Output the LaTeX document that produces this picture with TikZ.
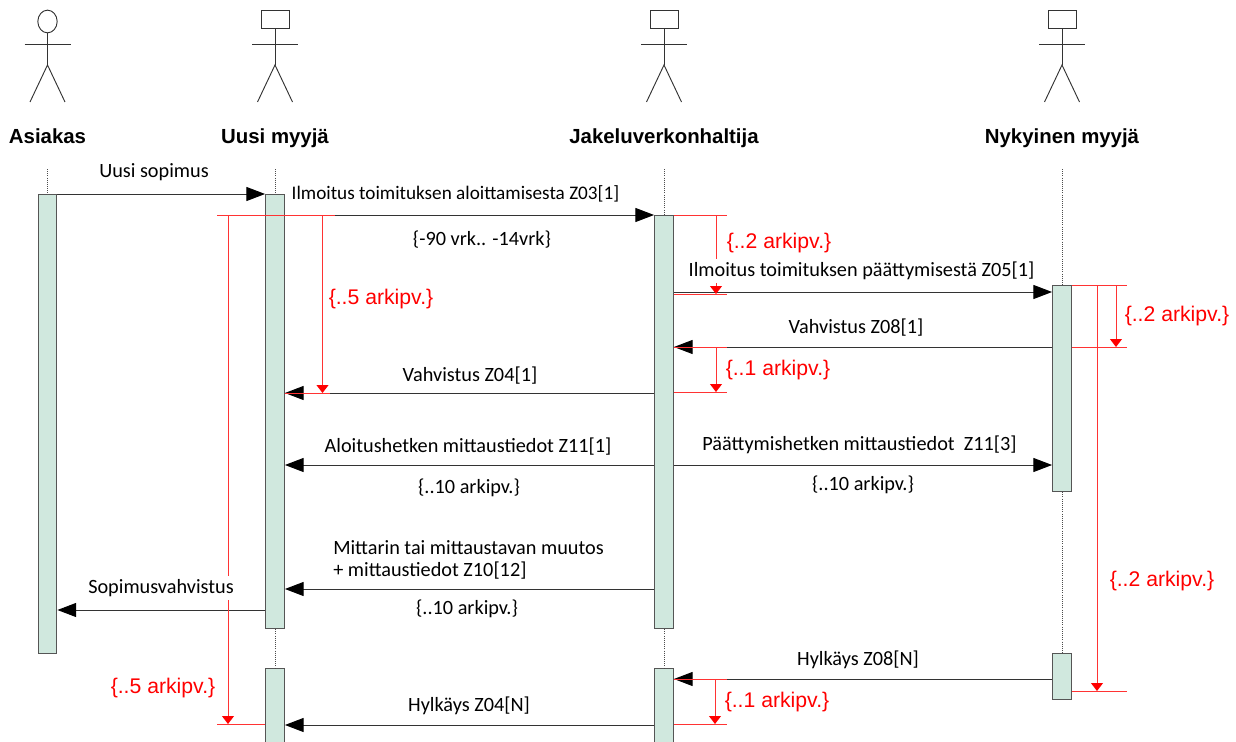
\documentclass[tikz,border=0pt]{standalone}
\usepackage{fontspec}
\setmainfont{Carlito}
\newfontfamily\arialfont{Liberation Sans}
\usetikzlibrary{arrows.meta,shapes.geometric}
\definecolor{barfill}{HTML}{D0E8DE}
\definecolor{barline}{HTML}{555555}
\tikzset{
  bar/.style={draw=barline, fill=barfill, line width=0.9pt, inner sep=0pt, anchor=north,
    minimum width=14pt},
  actorname/.style={font=\arialfont\bfseries\fontsize{15.3}{17}\selectfont, inner sep=0pt, anchor=base},
  msglabel/.style={fill=white, inner sep=0pt, minimum height=17.5pt,
    font=\fontsize{15.2}{16.5}\selectfont},
  timelabel/.style={text=red, inner sep=0pt, font=\arialfont\fontsize{15.9}{18}\selectfont},
  msg/.style={-{Triangle[length=14pt,width=10.5pt,color=black]}, line width=0.7pt, draw=black!80},
  timeline/.style={draw=red!80, line width=0.75pt},
  deadline/.style={timeline, -{Triangle[length=6pt,width=9pt,color=red]}},
  lifeline/.style={draw=black!70, line width=0.6pt, densely dotted}
}
\begin{document}
\begin{tikzpicture}[x=0.75pt, y=-0.75pt]

\useasboundingbox (0,0) rectangle (1236,742);
\clip (0,0) rectangle (1236,742);

% Stick figures, their names and the top of the lifelines
\node [draw=black!80, line width=0.7pt, ellipse, minimum width=14.5pt, minimum height=17pt, inner sep=0pt]
  (headAsiakas) at (47.5,21.5) {};
\foreach \who/\x in {Uusi/275, Jakelu/664, Nyky/1062} {
  \node [draw=black!80, line width=0.7pt, minimum width=21pt, minimum height=14pt, inner sep=0pt]
    (head\who) at (\x,19.5) {};
}
\foreach \who/\x/\lab in {
  Asiakas/47.5/Asiakas,
  Uusi/275/Uusi myyjä,
  Jakelu/664/Jakeluverkonhaltija,
  Nyky/1062/Nykyinen myyjä} {
  \coordinate (hip\who) at (\x,65);
  \coordinate (legL\who) at (\x-17.5,102);
  \coordinate (legR\who) at (\x+17.5,102);
  \coordinate (armL\who) at (\x-23,44.5);
  \coordinate (armR\who) at (\x+23,44.5);
  \draw [black!80, line width=0.7pt] (head\who.south) -- (hip\who);
  \draw [black!80, line width=0.7pt] (armL\who) -- (armR\who);
  \draw [black!80, line width=0.7pt] (legL\who) -- (hip\who) -- (legR\who);
  \node [actorname] (name\who) at (\x,143) {\lab};
  \coordinate (top\who) at (\x,169);
}

% Activation bars
\foreach \nm/\x/\top/\bot in {
  barAsiakas/47.5/194/653,
  barUusiA/275/194/628,
  barUusiB/275/668/760,
  barJakeluA/664/215/628,
  barJakeluB/664/668/760,
  barNykyA/1062/285/491,
  barNykyB/1062/653/699} {
  \node [bar, minimum height={(\bot-\top)*0.75pt}] (\nm) at (\x,\top) {};
}

% Lifelines
\draw [lifeline] (topAsiakas) -- (barAsiakas.north);
\draw [lifeline] (topUusi) -- (barUusiA.north);
\draw [lifeline] (topJakelu) -- (barJakeluA.north);
\draw [lifeline] (topNyky) -- (barNykyA.north);
\draw [lifeline] (barUusiA.south) -- (barUusiB.north);
\draw [lifeline] (barJakeluA.south) -- (barJakeluB.north);
\draw [lifeline] (barNykyA.south) -- (barNykyB.north);

% Messages between the bars
\foreach \y/\from/\to in {
  194/barAsiakas.east/barUusiA.west,
  215/barUusiA.west/barJakeluA.west,
  292/barJakeluA.east/barNykyA.west,
  347/barNykyA.west/barJakeluA.east,
  393/barJakeluA.west/barUusiA.east,
  465/barJakeluA.west/barUusiA.east,
  465/barJakeluA.east/barNykyA.west,
  589/barJakeluA.west/barUusiA.east,
  610/barUusiA.west/barAsiakas.east,
  679/barNykyB.west/barJakeluB.east,
  725/barJakeluB.west/barUusiB.east} {
  \draw [msg] (\from |- 0,\y) -- (\to |- 0,\y);
}

% Red tick lines, free ends are named first
\foreach \nm/\x/\y in {
  tickA/217/215, tickB/335/215, tickC/727/215, tickD/727/294,
  tickE/1127/285, tickF/1127/347, tickG/727/347, tickH/727/392,
  tickI/330/393, tickJ/1127/691, tickK/727/679, tickL/727/724,
  tickM/217/724} {
  \coordinate (\nm) at (\x,\y);
}
\draw [timeline] (tickA) -- (tickB);
\draw [timeline] (barJakeluA.east |- tickC) -- (tickC);
\draw [timeline] (barJakeluA.east |- tickD) -- (tickD);
\draw [timeline] (barNykyA.east |- tickE) -- (tickE);
\draw [timeline] (barNykyA.east |- tickF) -- (tickF);
\draw [timeline] (barJakeluA.east |- tickG) -- (tickG);
\draw [timeline] (barJakeluA.east |- tickH) -- (tickH);
\draw [timeline] (barUusiA.east |- tickI) -- (tickI);
\draw [timeline] (barNykyB.east |- tickJ) -- (tickJ);
\draw [timeline] (barJakeluB.east |- tickK) -- (tickK);
\draw [timeline] (barJakeluB.east |- tickL) -- (tickL);
\draw [timeline] (tickM) -- (barUusiB.west |- tickM);

% Red time limits
\foreach \x/\from/\to in {
  228/tickA/tickM,
  322.5/tickA/tickI,
  716/tickC/tickD,
  716/tickG/tickH,
  715/tickK/tickL,
  1116/tickE/tickF,
  1097/tickE/tickJ} {
  \draw [deadline] (\x,0 |- \from) -- (\x,0 |- \to);
}

% Message texts
\foreach \nm/\x/\y/\lab in {
  lblSopimus/154/172/Uusi sopimus,
  lblZ03/455.5/194/{\fontsize{14.4}{16.5}\selectfont Ilmoitus toimituksen aloittamisesta Z03[1]},
  lblZ03t/482/239.5/{\{-90 vrk.. -14vrk\}},
  lblZ05/861.5/271/Ilmoitus toimituksen päättymisestä Z05[1],
  lblZ08/856/327.5/Vahvistus Z08[1],
  lblZ04/470/375.5/Vahvistus Z04[1],
  lblZ11a/468/446.5/Aloitushetken mittaustiedot Z11[1],
  lblZ11at/469/487.5/{\{..10 arkipv.\}},
  lblZ11b/859.5/444.5/Päättymishetken mittaustiedot\ \ Z11[3],
  lblZ11bt/863/484.5/{\{..10 arkipv.\}},
  lblZ10t/467/608.5/{\{..10 arkipv.\}},
  lblVahv/161/588/Sopimusvahvistus,
  lblZ08n/858/659.5/Hylkäys Z08[N],
  lblZ04n/469/705.5/Hylkäys Z04[N]} {
  \node [msglabel] (\nm) at (\x,\y) {\lab};
}
\node [msglabel, anchor=west, align=left] (lblZ10) at (333,560)
  {Mittarin tai mittaustavan muutos\\+ mittaustiedot Z10[12]};

% Red texts
\foreach \nm/\x/\y/\lab in {
  redA/381/299/5, redB/779/243/2, redC/1177/316/2, redD/778/370/1,
  redE/1162/581/2, redF/163/688/5, redG/777/702/1} {
  \node [timelabel] (\nm) at (\x,\y) {\{..\lab{} arkipv.\}};
}

\end{tikzpicture}
\end{document}
